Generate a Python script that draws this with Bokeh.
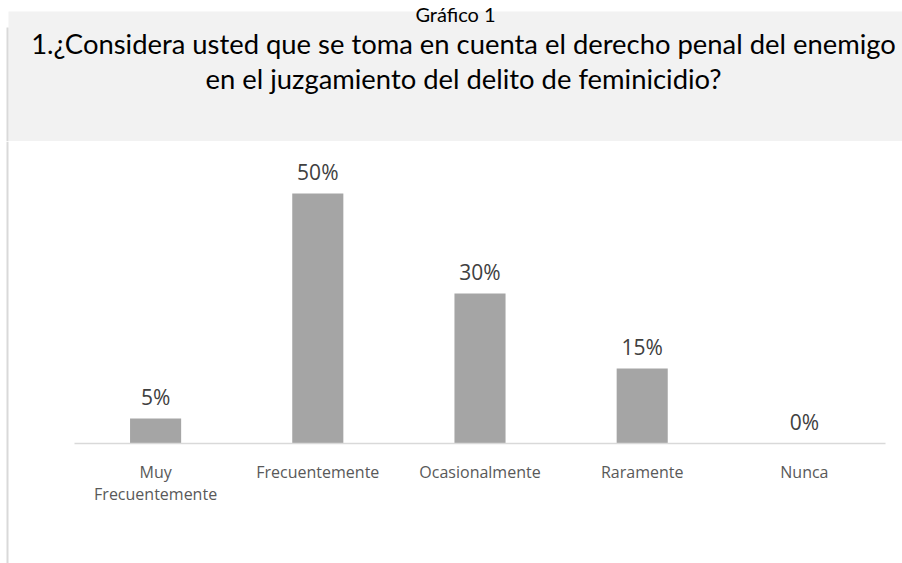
from bokeh.plotting import figure
from bokeh.layouts import column
from bokeh.models import Range1d, ColumnDataSource
from bokeh.core.properties import value
from bokeh.embed import file_html
from bokeh.resources import INLINE

# ---- data ----
categories = ["Muy\nFrecuentemente", "Frecuentemente", "Ocasionalmente", "Raramente", "Nunca"]
values = [0.05, 0.50, 0.30, 0.15, 0.0]
value_labels = ["5%", "50%", "30%", "15%", "0%"]
chart_number = "Gráfico 1"
title_lines = [
    "1.¿Considera usted que se toma en cuenta el derecho penal del enemigo",
    "en el juzgamiento del delito de feminicidio?",
]

W = 902
TH = 141
CH = 422
BORDER = "#d9d9d9"

# ---- title panel ----
t = figure(width=W, height=TH, output_backend="svg", toolbar_location=None,
           x_range=Range1d(0, W), y_range=Range1d(TH, 0),
           min_border=0, x_axis_type=None, y_axis_type=None)
t.grid.visible = False
t.outline_line_color = None
t.background_fill_color = "white"
t.border_fill_color = "white"
t.quad(left=[8], right=[W], top=[11], bottom=[TH], fill_color="#f2f2f2", line_color=None)
t.segment(x0=[7], y0=[27], x1=[7], y1=[TH], line_color=BORDER, line_width=2)
t.text(x=[455], y=[13], text=[chart_number], text_font=value("Lato"),
       text_font_size="20px", text_color="#000000", text_align="center",
       text_baseline="alphabetic")
t.text(x=[463, 463], y=[43, 78], text=title_lines, text_font=value("Lato"),
       text_font_size="27.4px", text_color="#000000", text_align="center",
       text_baseline="alphabetic")

# ---- chart ----
n = len(categories)
xs = [i + 0.5 for i in range(n)]
cat_px = 162.2
x_start = -74 / cat_px
x_end = n + 17 / cat_px
y_top = 0.604
y_bot = -0.24
p = figure(width=W, height=CH, output_backend="svg", toolbar_location=None,
           x_range=Range1d(x_start, x_end), y_range=Range1d(y_bot, y_top),
           min_border=0, x_axis_type=None, y_axis_type=None)
p.grid.visible = False
p.outline_line_color = None
p.background_fill_color = "white"
p.border_fill_color = "white"

src = ColumnDataSource(dict(x=xs, top=values, lab=value_labels,
                            cat=categories, zero=[0] * n))
p.vbar(x="x", top="top", bottom=0, width=0.315, source=src,
       fill_color="#a5a5a5", line_color=None)
p.segment(x0=[0], y0=[0], x1=[n], y1=[0], line_color=BORDER, line_width=1.5)
p.segment(x0=[x_start + 7 / cat_px], y0=[y_bot], x1=[x_start + 7 / cat_px], y1=[y_top],
          line_color=BORDER, line_width=2)
p.text(x="x", y="top", text="lab", source=src, y_offset=-22,
       text_font=value("Open Sans"), text_font_size="21px", text_color="#404040",
       text_align="center", text_baseline="alphabetic")
p.text(x="x", y="zero", text="cat", source=src, y_offset=17,
       text_font=value("Open Sans"), text_font_size="16px", text_color="#595959",
       text_align="center", text_baseline="top", text_line_height=1.0)

layout = column(t, p, spacing=0)
open("out.html", "w").write(file_html(layout, INLINE))
